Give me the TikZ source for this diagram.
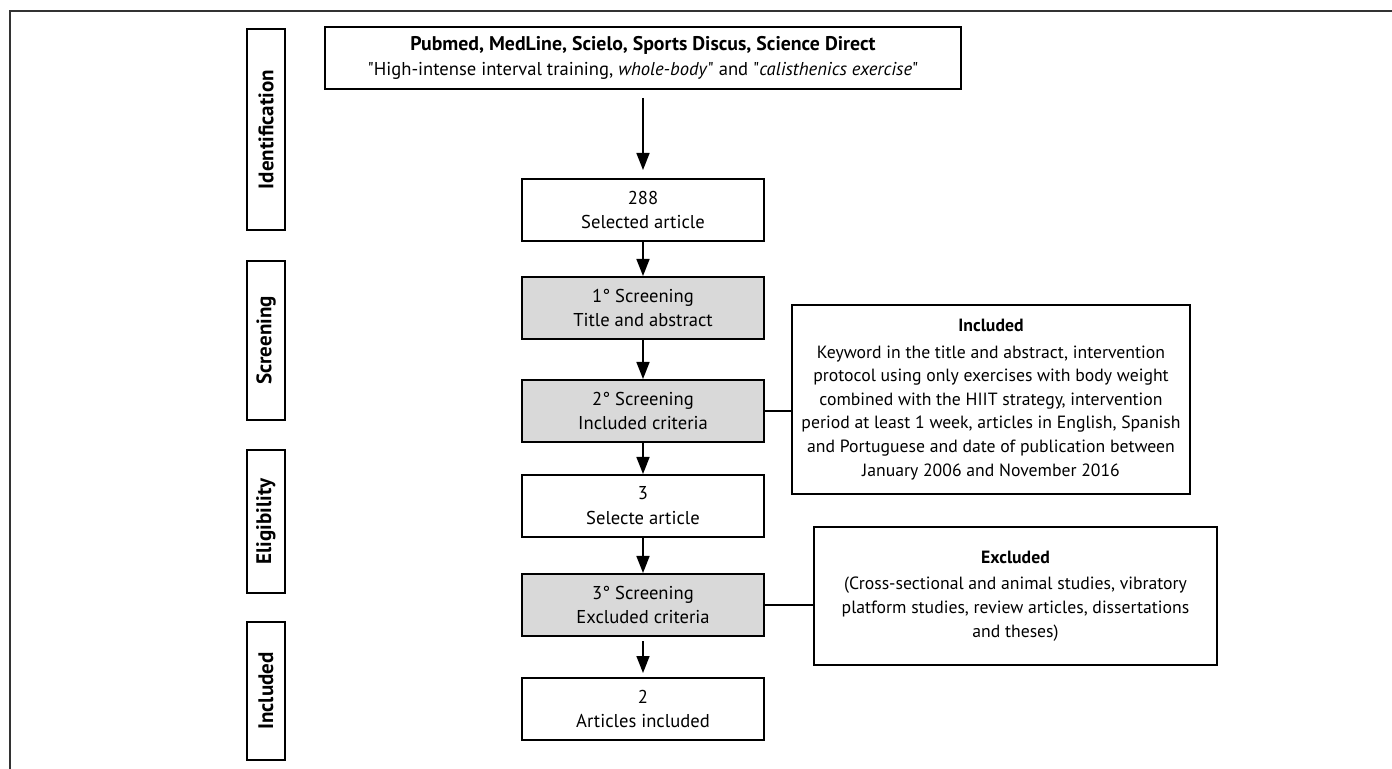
\documentclass[tikz,border=0pt]{standalone}
\usepackage{fontspec}
\setmainfont{PT Sans}[Ligatures=TeXOff]
\usetikzlibrary{positioning}
\usetikzlibrary{arrows.meta}

\begin{document}
\begin{tikzpicture}[x=0.5pt, y=-0.5pt,
  font=\fontsize{9.3}{12.4}\selectfont,
  box/.style={draw, line width=1pt, align=center, minimum width=121pt, minimum height=31pt, inner sep=2pt},
  greybox/.style={box, fill=black!15},
  phase/.style={draw, line width=1pt, rotate=90, minimum height=19pt, inner sep=0pt, font=\fontsize{10.5}{12}\selectfont\bfseries},
  note/.style={draw, line width=1pt, align=center, inner sep=0pt, font=\fontsize{8.85}{11.8}\selectfont},
  arrow/.style={-{Triangle[length=8.5pt, width=6.5pt]}, line width=0.8pt}]
  \useasboundingbox (0,0) rectangle (1392,769);

  % frame
  \draw[black!80, line width=0.7pt] (10,769) -- (10,11) -- (1392,11);

  % phases
  \node[phase, minimum width=100.5pt] (ident) at (266,129.5) {Identification};
  \node[phase, minimum width=79.5pt] (screen) at (266,340.5) {Screening};
  \node[phase, minimum width=71.5pt] (elig) at (266,521.5) {Eligibility};
  \node[phase, minimum width=69pt] (incl) at (266,691) {Included};

  % flow
  \node[box, minimum width=318pt, inner sep=0pt] (search) at (643,58)
    {{\fontsize{9.9}{12.4}\selectfont\textbf{Pubmed, MedLine, Scielo, Sports Discus, Science Direct}}\\
     "High-intense interval training, \textit{whole-body}" and "\textit{calisthenics exercise}"};
  \node[box, below=44pt of search] (selected) {288\\Selected article};
  \node[greybox, below=17pt of selected] (first) {1° Screening\\Title and abstract};
  \node[greybox, below=19.5pt of first] (second) {2° Screening\\Included criteria};
  \node[box, below=15.5pt of second] (selecte) {3\\Selecte article};
  \node[greybox, below=17.5pt of selecte] (third) {3° Screening\\Excluded criteria};
  \node[box, below=20pt of third] (final) {2\\Articles included};

  % criteria
  \node[note, minimum width=199pt, minimum height=94.5pt] (included) at (991,399.5)
    {\textbf{Included}\\[1.5pt]
     Keyword in the title and abstract, intervention\\
     protocol using only exercises with body weight\\
     combined with the HIIT strategy, intervention\\
     period at least 1 week, articles in English, Spanish\\
     and Portuguese and date of publication between\\
     January 2006 and November 2016};
  \node[note, minimum width=201.5pt, minimum height=69pt] (excluded) at (1015.5,596)
    {\textbf{Excluded}\\[1.5pt]
     (Cross-sectional and animal studies, vibratory\\
     platform studies, review articles, dissertations\\
     and theses)};

  \draw[arrow, shorten <=4pt, shorten >=4pt] (search) -- (selected);
  \draw[arrow] (selected) -- (first);
  \draw[arrow] (first) -- (second);
  \draw[arrow] (second) -- (selecte);
  \draw[arrow] (selecte) -- (third);
  \draw[arrow, shorten <=2pt, shorten >=2pt] (third) -- (final);

  \draw[line width=1pt] (second.east) -- (second.east -| included.west);
  \draw[line width=1pt] (third.east) -- (third.east -| excluded.west);
\end{tikzpicture}
\end{document}
